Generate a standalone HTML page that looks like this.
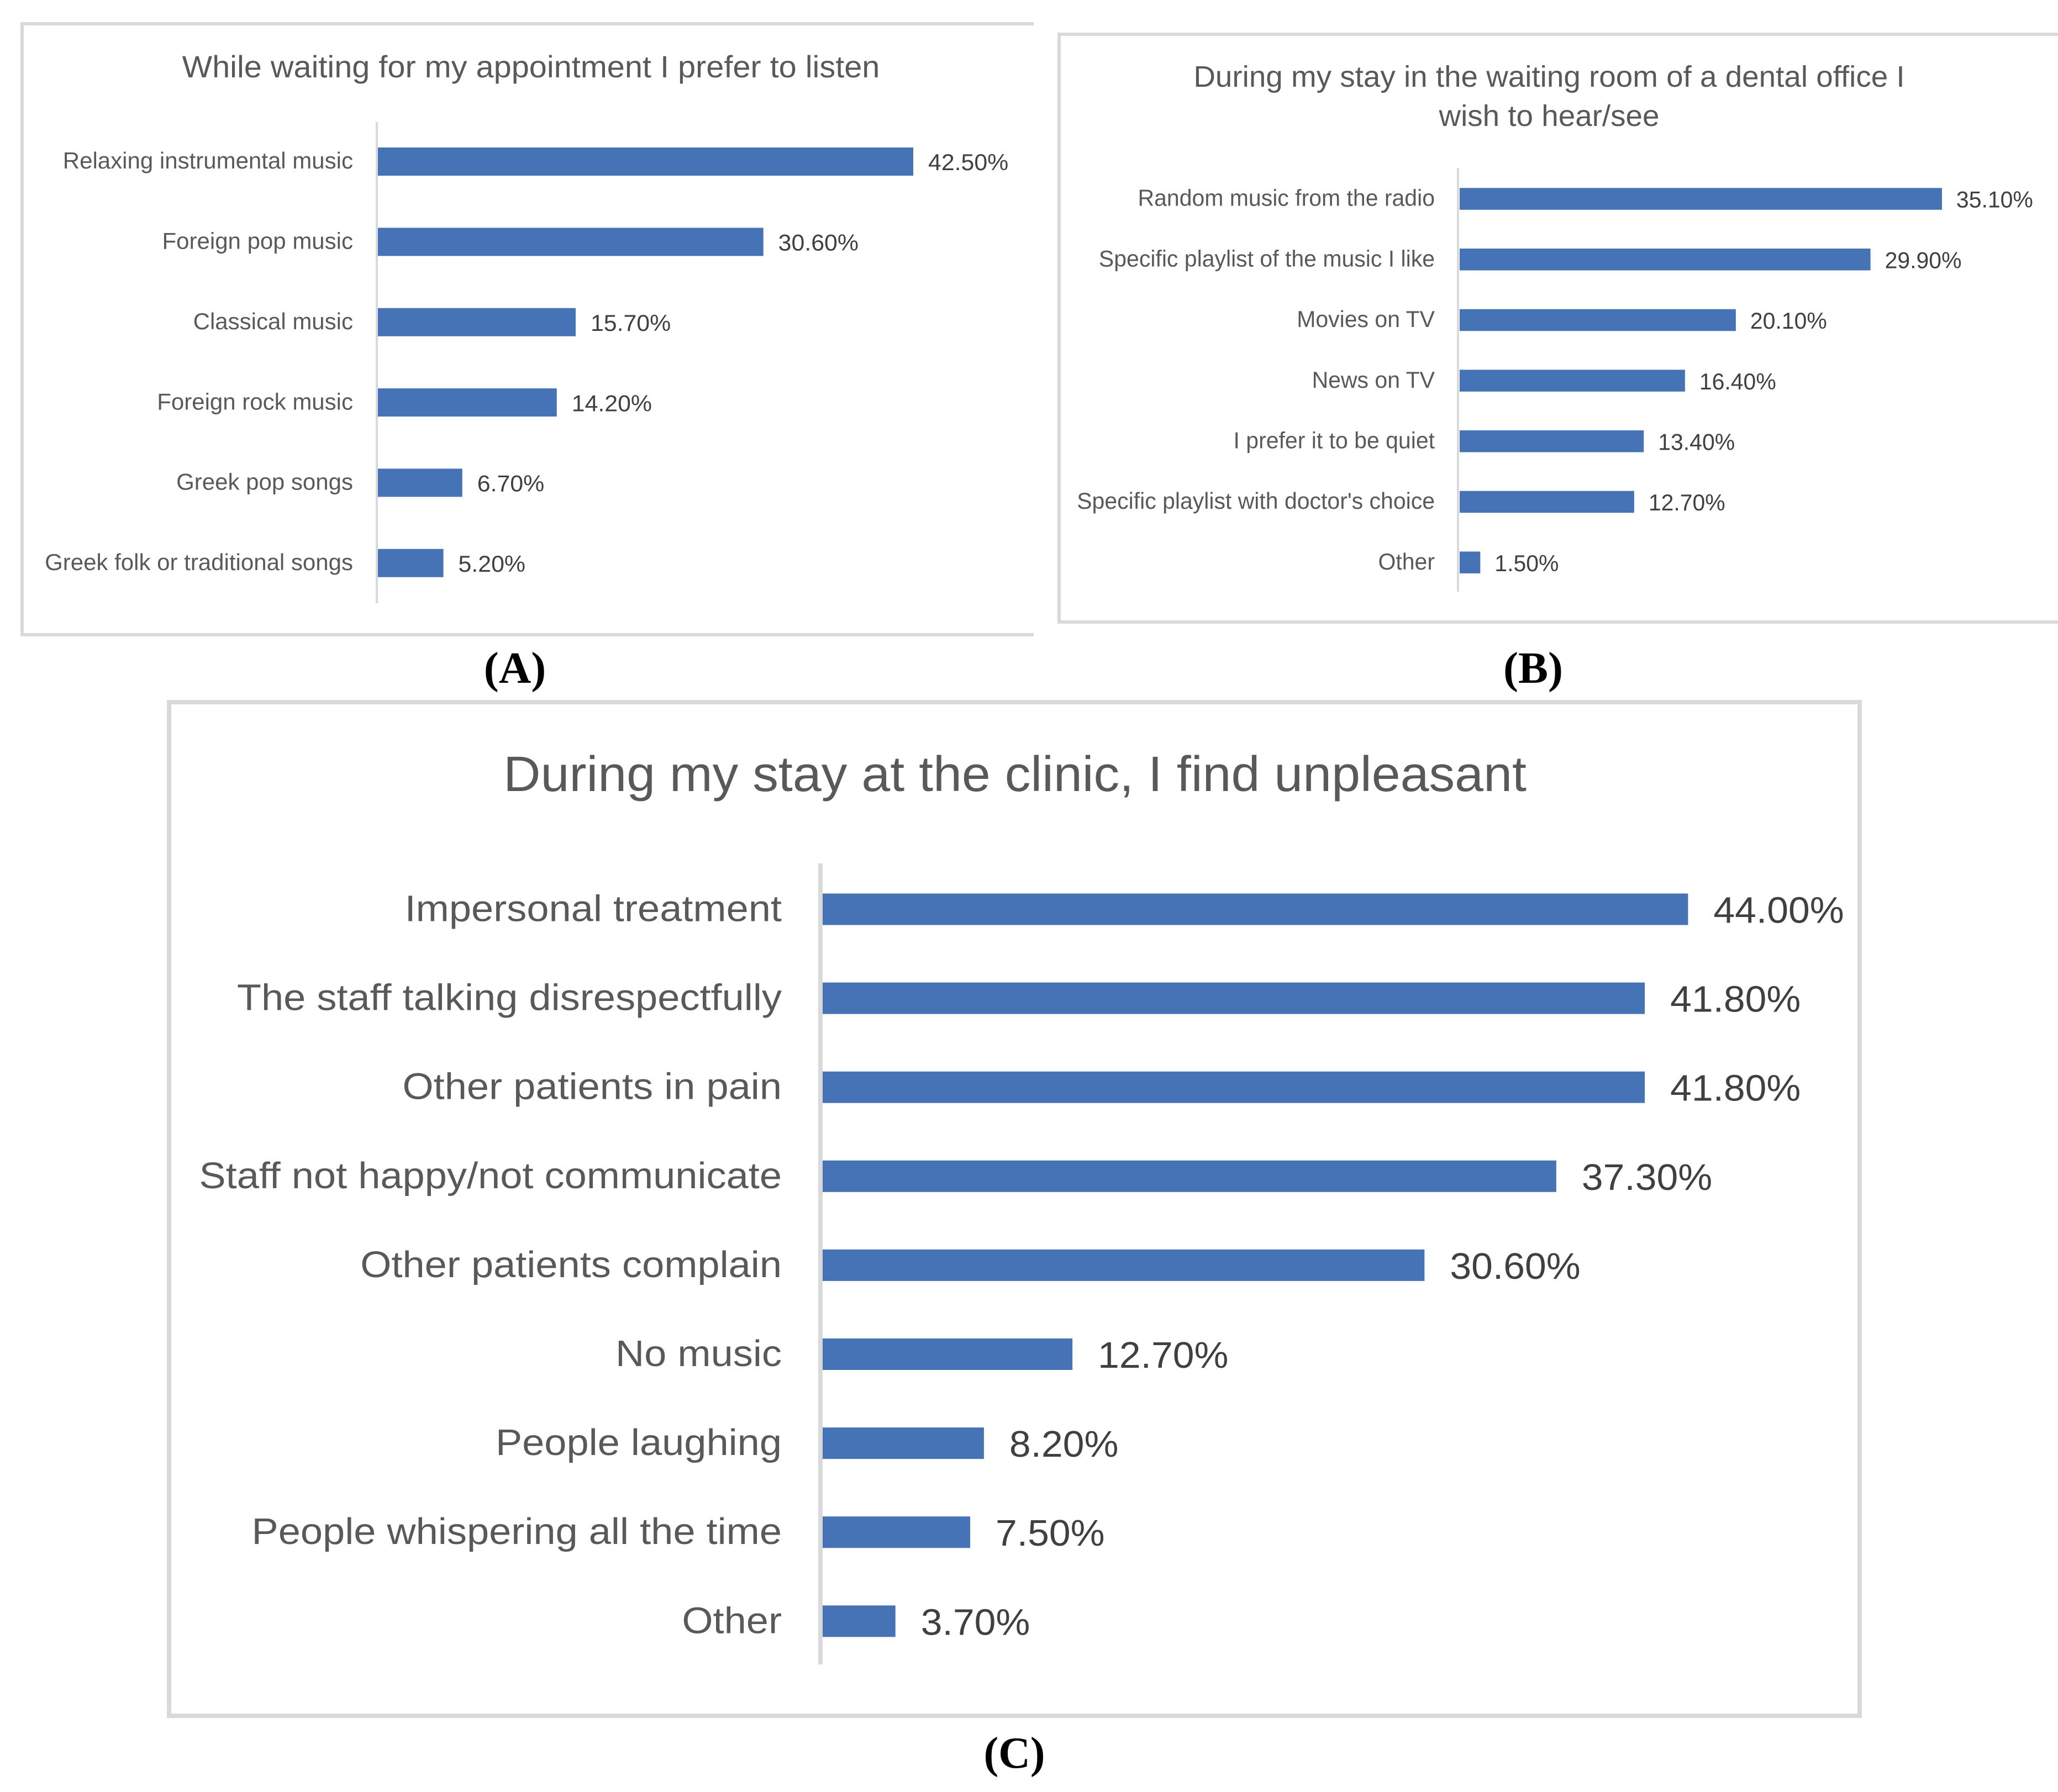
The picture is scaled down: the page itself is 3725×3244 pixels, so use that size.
<!DOCTYPE html>
<html lang="en">
<head>
<meta charset="utf-8">
<title>Dental clinic survey charts</title>
<style>
html,body{margin:0;padding:0;background:#fff;width:3725px;height:3244px;overflow:hidden}
svg{display:block}
text{font-family:"Liberation Sans",sans-serif}
.cap{font-family:"Liberation Serif",serif;font-weight:bold;fill:#000}
</style>
</head>
<body>
<svg id="figure" xmlns="http://www.w3.org/2000/svg" width="3725" height="3244" viewBox="0 0 3725 3244">
  <rect width="3725" height="3244" fill="#fff"/>

  <g id="panel-a">
    <path d="M1871 43H40V1149H1871" fill="none" stroke="#d9d9d9" stroke-width="6"/>
    <text transform="translate(961,140) scale(1.03,1)" text-anchor="middle" font-size="56" fill="#595959">While waiting for my appointment I prefer to listen</text>
  </g>
  <text class="cap" x="932" y="1236" text-anchor="middle" font-size="81">(A)</text>

  <g id="panel-b">
    <path d="M3725 62H1917V1126H3725" fill="none" stroke="#d9d9d9" stroke-width="6"/>
    <text transform="translate(2804,157) scale(1.015,1)" text-anchor="middle" font-size="54" fill="#595959">During my stay in the waiting room of a dental office I</text>
    <text transform="translate(2804,228) scale(1.015,1)" text-anchor="middle" font-size="54" fill="#595959">wish to hear/see</text>
  </g>
  <text class="cap" x="2775" y="1236" text-anchor="middle" font-size="81">(B)</text>

  <g id="panel-c">
    <rect x="306" y="1271" width="3060" height="1835" fill="none" stroke="#d9d9d9" stroke-width="8"/>
    <text transform="translate(1837,1432) scale(1.037,1)" text-anchor="middle" font-size="90" fill="#595959">During my stay at the clinic, I find unpleasant</text>
  </g>
  <text class="cap" x="1836" y="3200" text-anchor="middle" font-size="80">(C)</text>
</svg>

<script>
const categoriesA = ["Relaxing instrumental music","Foreign pop music","Classical music","Foreign rock music","Greek pop songs","Greek folk or traditional songs"];
const valuesA = [42.5,30.6,15.7,14.2,6.7,5.2];

const categoriesB = ["Random music from the radio","Specific playlist of the music I like","Movies on TV","News on TV","I prefer it to be quiet","Specific playlist with doctor's choice","Other"];
const valuesB = [35.1,29.9,20.1,16.4,13.4,12.7,1.5];

const categoriesC = ["Impersonal treatment","The staff talking disrespectfully","Other patients in pain","Staff not happy/not communicate","Other patients complain","No music","People laughing","People whispering all the time","Other"];
const valuesC = [44.0,41.8,41.8,37.3,30.6,12.7,8.2,7.5,3.7];

const NS = "http://www.w3.org/2000/svg";

function drawBars(panelId, categories, values, o) {
  const panel = document.getElementById(panelId);
  const xScale = function (v) { return o.x0 + v * o.unit; };
  const yBand = function (i) { return o.firstY + i * o.step; };

  const axis = document.createElementNS(NS, "line");
  axis.setAttribute("x1", o.axisX);
  axis.setAttribute("x2", o.axisX);
  axis.setAttribute("y1", o.axisTop);
  axis.setAttribute("y2", o.axisBottom);
  axis.setAttribute("stroke", "#d9d9d9");
  axis.setAttribute("stroke-width", o.axisWidth);
  
  
  panel.appendChild(axis);

  categories.forEach(function (cat, i) {
    const cy = yBand(i);
    const v = values[i];

    const bar = document.createElementNS(NS, "rect");
    bar.setAttribute("x", o.x0);
    bar.setAttribute("y", cy - o.barH / 2);
    bar.setAttribute("width", xScale(v) - o.x0);
    bar.setAttribute("height", o.barH);
    bar.setAttribute("fill", "#4672b6");
    
    
    panel.appendChild(bar);

    const label = document.createElementNS(NS, "text");
    label.textContent = cat;
    label.setAttribute("transform", "translate(" + o.labelRight + "," + (cy - 2 + o.labelFs * 0.35) + ") scale(" + o.labelSx + ",1)");
    label.setAttribute("text-anchor", "end");
    label.setAttribute("font-size", o.labelFs);
    label.setAttribute("fill", "#595959");
    
    
    panel.appendChild(label);

    const val = document.createElementNS(NS, "text");
    val.textContent = v.toFixed(2) + "%";
    val.setAttribute("transform", "translate(" + (xScale(v) + o.valueGap) + "," + (cy + 1 + o.valueFs * 0.35) + ") scale(" + o.valueSx + ",1)");
    val.setAttribute("font-size", o.valueFs);
    val.setAttribute("fill", "#404040");
    
    
    panel.appendChild(val);
  });
}

drawBars("panel-a", categoriesA, valuesA, {
  x0: 684, unit: 22.8, firstY: 292.5, step: 145.35, barH: 51,
  axisX: 682, axisTop: 221, axisBottom: 1092, axisWidth: 4,
  labelRight: 639, labelFs: 42, labelSx: 1.0,
  valueGap: 27, valueFs: 42, valueSx: 1.02
});
drawBars("panel-b", categoriesB, valuesB, {
  x0: 2642, unit: 24.87, firstY: 360, step: 109.7, barH: 39.5,
  axisX: 2639, axisTop: 304, axisBottom: 1071, axisWidth: 4,
  labelRight: 2597, labelFs: 42, labelSx: 0.976,
  valueGap: 26, valueFs: 42, valueSx: 0.975
});
drawBars("panel-c", categoriesC, valuesC, {
  x0: 1489, unit: 35.6, firstY: 1646, step: 161.1, barH: 57,
  axisX: 1485, axisTop: 1563, axisBottom: 3013, axisWidth: 8,
  labelRight: 1415, labelFs: 67, labelSx: 1.078,
  valueGap: 46, valueFs: 67, valueSx: 1.04
});
</script>
</body>
</html>
